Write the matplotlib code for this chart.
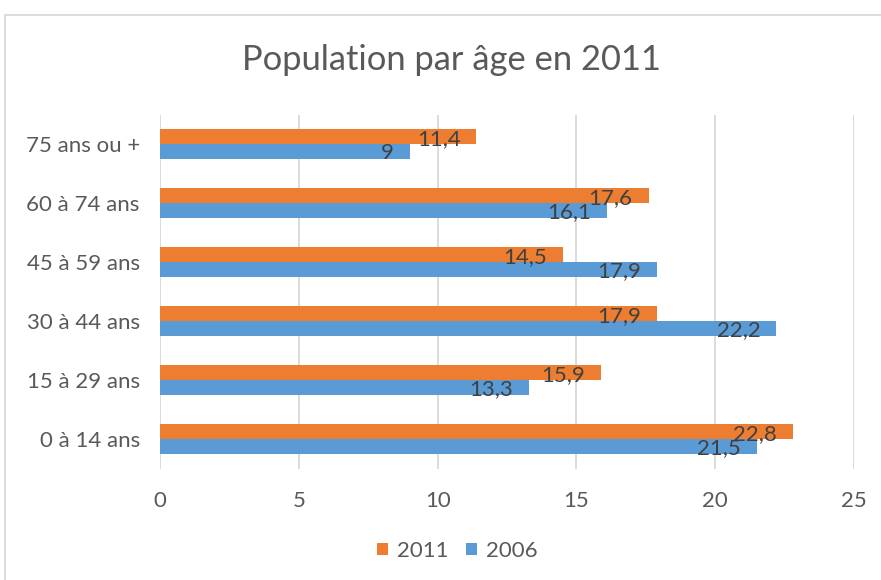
import matplotlib.pyplot as plt
from matplotlib.patches import Rectangle
import numpy as np

categories = ['0 à 14 ans', '15 à 29 ans', '30 à 44 ans', '45 à 59 ans', '60 à 74 ans', '75 ans ou +']
values_2011 = [22.8, 15.9, 17.9, 14.5, 17.6, 11.4]
values_2006 = [21.5, 13.3, 22.2, 17.9, 16.1, 9]
x_ticks = [0, 5, 10, 15, 20, 25]

plt.rcParams['font.family'] = ['Lato', 'DejaVu Sans']

orange = '#ED7D31'
blue = '#5B9BD5'
txt = '#595959'

fig = plt.figure(figsize=(8.81, 5.80), dpi=100)
ax = fig.add_axes([160 / 881, 1 - 468.5 / 580, 694 / 881, 354 / 580])

y = np.arange(len(categories))
h = 0.25
ax.barh(y + h / 2, values_2011, height=h, color=orange, label='2011', zorder=3)
ax.barh(y - h / 2, values_2006, height=h, color=blue, label='2006', zorder=3)

# étiquettes de données (virgule décimale)
def fmt(v):
    s = f'{v:g}'
    return s.replace('.', ',')

for yi, v in zip(y, values_2011):
    ax.annotate(fmt(v), (v, yi + h / 2), xytext=(-16, -2), textcoords='offset pixels',
                ha='right', va='center', fontsize=16, color='#404040', zorder=4)
for yi, v in zip(y, values_2006):
    ax.annotate(fmt(v), (v, yi - h / 2), xytext=(-16, -2), textcoords='offset pixels',
                ha='right', va='center', fontsize=16, color='#404040', zorder=4)

ax.set_xlim(0, 25)
ax.set_ylim(-0.5, len(categories) - 0.5)
ax.set_xticks(x_ticks)
ax.set_xticklabels([str(t) for t in x_ticks])
ax.set_yticks(y)
ax.set_yticklabels(categories)
ax.tick_params(axis='both', length=0, labelsize=16, labelcolor=txt)
ax.tick_params(axis='x', pad=16)
ax.tick_params(axis='y', pad=14.5)
ax.grid(axis='x', color='#D9D9D9', linewidth=1.3, zorder=0)
for s in ax.spines.values():
    s.set_visible(False)

fig.text(452 / 881, 1 - 60 / 580, 'Population par âge en 2011', ha='center', va='center',
         fontsize=24.8, color=txt)

fig.legend(loc='center', bbox_to_anchor=(457 / 881, 1 - 551 / 580), ncol=2, frameon=False,
           fontsize=16, labelcolor=txt, handlelength=0.5, handleheight=0.5,
           handletextpad=0.4, columnspacing=0.8)

# cadre du graphique
fig.patches.append(Rectangle((5 / 881, -0.1), 1.1, 1 - 15 / 580 + 0.1, transform=fig.transFigure,
                             fill=False, edgecolor='#D9D9D9', linewidth=1.3))

fig.savefig('out.png', dpi=100)
